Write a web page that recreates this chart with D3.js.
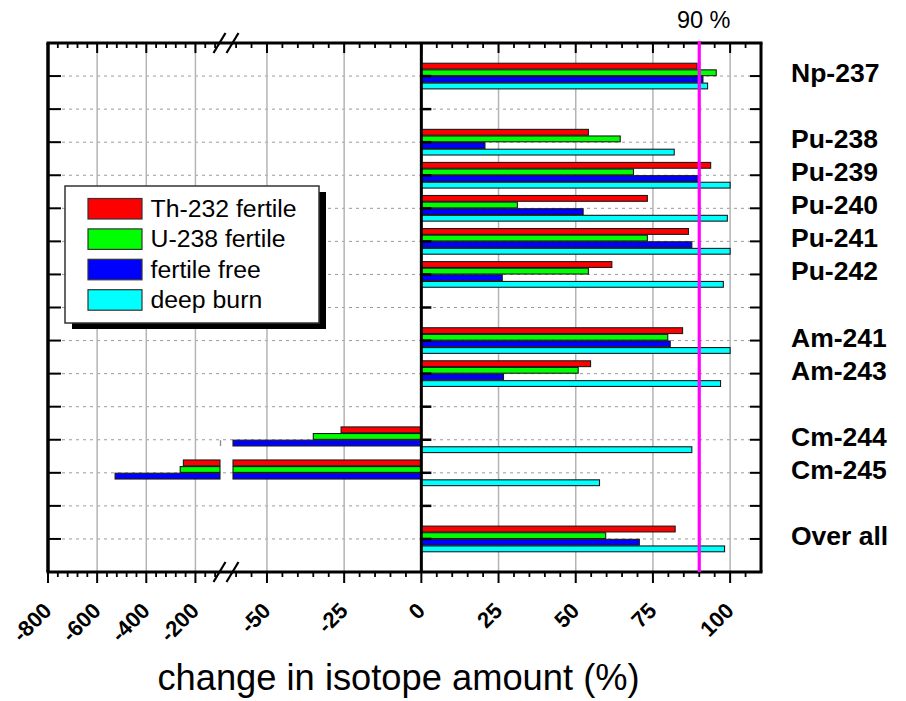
<!DOCTYPE html>
<html>
<head>
<meta charset="utf-8">
<script src="https://cdn.jsdelivr.net/npm/d3@7"></script>
<style>
  body { margin: 0; background: #fff; }
  svg { display: block; font-family: "Liberation Sans", Arial, Helvetica, sans-serif; }
</style>
</head>
<body>
<svg id="chart" width="906" height="701"></svg>
<script>
// Rows of the chart, top to bottom; empty strings are spacer rows between element groups
const categories = ["Np-237", "", "Pu-238", "Pu-239", "Pu-240", "Pu-241", "Pu-242", "",
                    "Am-241", "Am-243", "", "Cm-244", "Cm-245", "", "Over all"];
const isotopes = ["Np-237", "Pu-238", "Pu-239", "Pu-240", "Pu-241", "Pu-242",
                  "Am-241", "Am-243", "Cm-244", "Cm-245", "Over all"];

// Change in isotope amount (%) per fuel option
const th232Fertile = [89.3, 54.1, 93.7, 73.2, 86.5, 61.7, 84.6, 54.8, -26, -249, 82.2];
const u238Fertile  = [95.5, 64.4, 68.7, 31.1, 73.2, 54.1, 79.8, 50.8, -35, -262, 59.7];
const fertileFree  = [91.2, 20.6, 89.5, 52.4, 87.6, 26.2, 80.6, 26.6, -100, -527, 70.6];
const deepBurn     = [92.7, 81.9, 100, 99.1, 100, 97.8, 100, 96.9, 87.6, 57.7, 98.2];

const seriesNames  = ["Th-232 fertile", "U-238 fertile", "fertile free", "deep burn"];
const seriesValues = [th232Fertile, u238Fertile, fertileFree, deepBurn];
const seriesColors = ["#ff0000", "#00ff00", "#0000ff", "#00ffff"];

// Broken x axis: a compressed far-negative segment and a main segment
const leftDomain  = [-800, -100];
const rightDomain = [-61, 110];
const leftTicks   = [-800, -600, -400, -200];
const rightTicks  = [-50, -25, 0, 25, 50, 75, 100];
const leftMinorStep = 40;
const rightMinorStep = 5;

const limitValue = 90;
const limitLabel = "90 %";
const axisTitle = "change in isotope amount (%)";

// ---- layout ----
const frame = { left: 48, right: 761, top: 43, bottom: 572 };
const svg = d3.select("#chart");

const xL = d3.scaleLinear().domain(leftDomain).range([frame.left, 220]);
const xR = d3.scaleLinear().domain(rightDomain).range([233, frame.right]);
const y = d3.scalePoint().domain(d3.range(categories.length))
  .range([frame.top, frame.bottom]).padding(1);
const step = y.step();

const xAny = v => (v <= leftDomain[1] ? xL(v) : xR(v));

// ---- grid ----
const grid = svg.append("g");
grid.selectAll("line.h").data(d3.range(categories.length)).join("line")
  .attr("x1", frame.left).attr("x2", frame.right)
  .attr("y1", d => y(d)).attr("y2", d => y(d))
  .attr("stroke", "#9a9a9a").attr("stroke-width", 1).attr("stroke-dasharray", "3,4");

const gridValues = leftTicks.filter(v => v !== leftDomain[0])
  .concat(rightTicks.filter(v => v !== 0));
grid.selectAll("line.v").data(gridValues).join("line")
  .attr("x1", d => xAny(d)).attr("x2", d => xAny(d))
  .attr("y1", frame.top).attr("y2", frame.bottom)
  .attr("stroke", "#b4b4b4").attr("stroke-width", 1.5);

// ---- bars ----
const barH = 0.2 * step - 0.8;
const bars = svg.append("g");
const barRows = [];
seriesValues.forEach((vals, k) => {
  vals.forEach((v, i) => {
    const cy = y(categories.indexOf(isotopes[i]));
    barRows.push({ v, k, top: cy + (-0.4 + 0.2 * k) * step + 0.4 });
  });
});
barRows.forEach(b => {
  const g = bars.append("g");
  const style = sel => sel.attr("fill", seriesColors[b.k])
    .attr("stroke", "#1a1a1a").attr("stroke-width", 1.1)
    .attr("y", b.top).attr("height", barH);
  if (b.v >= 0) {
    g.append("rect").call(style)
      .attr("x", xR(0)).attr("width", xR(b.v) - xR(0));
  } else {
    const x0 = xR(Math.max(b.v, rightDomain[0]));
    g.append("rect").call(style).attr("x", x0).attr("width", xR(0) - x0);
    if (b.v < leftDomain[1]) {
      const xl = xL(Math.max(b.v, leftDomain[0]));
      g.append("rect").call(style).attr("x", xl).attr("width", xL(leftDomain[1]) - xl);
    } else if (b.v === leftDomain[1]) {
      // bar ends exactly at the break: only its end edge shows in the left segment
      g.append("line")
        .attr("x1", xL(b.v) + 0.5).attr("x2", xL(b.v) + 0.5)
        .attr("y1", b.top).attr("y2", b.top + barH)
        .attr("stroke", "#8a8a8a").attr("stroke-width", 1.3);
    }
  }
});

// ---- zero axis with row ticks ----
const axes = svg.append("g").attr("stroke", "#000");
axes.append("line").attr("x1", xR(0)).attr("x2", xR(0))
  .attr("y1", frame.top).attr("y2", frame.bottom).attr("stroke-width", 3);
const rowIdx = d3.range(categories.length);
axes.selectAll("line.z").data(rowIdx).join("line")
  .attr("x1", xR(0)).attr("x2", xR(0) + 10)
  .attr("y1", d => y(d)).attr("y2", d => y(d)).attr("stroke-width", 2.5);
axes.selectAll("line.l").data(rowIdx).join("line")
  .attr("x1", frame.left).attr("x2", frame.left + 13)
  .attr("y1", d => y(d)).attr("y2", d => y(d)).attr("stroke-width", 2);
axes.selectAll("line.r").data(rowIdx).join("line")
  .attr("x1", frame.right - 11).attr("x2", frame.right)
  .attr("y1", d => y(d)).attr("y2", d => y(d)).attr("stroke-width", 2);

// ---- top / bottom ticks ----
const leftMinor = d3.range(leftDomain[0] + leftMinorStep, leftDomain[1], leftMinorStep)
  .filter(v => !leftTicks.includes(v));
const rightMinor = d3.range(-60, rightDomain[1], rightMinorStep)
  .filter(v => !rightTicks.includes(v));
const majors = leftTicks.map(xL).concat(rightTicks.map(xR));
const minors = leftMinor.map(xL).concat(rightMinor.map(xR));

axes.selectAll("line.tM").data(majors).join("line")
  .attr("x1", d => d).attr("x2", d => d)
  .attr("y1", frame.top).attr("y2", frame.top + 10).attr("stroke-width", 2);
axes.selectAll("line.tm").data(minors).join("line")
  .attr("x1", d => d).attr("x2", d => d)
  .attr("y1", frame.top).attr("y2", frame.top + 5).attr("stroke-width", 1.8);
axes.selectAll("line.bM").data(majors).join("line")
  .attr("x1", d => d).attr("x2", d => d)
  .attr("y1", frame.bottom).attr("y2", frame.bottom + 11).attr("stroke-width", 2);
axes.selectAll("line.bm").data(minors).join("line")
  .attr("x1", d => d).attr("x2", d => d)
  .attr("y1", frame.bottom).attr("y2", frame.bottom + 5).attr("stroke-width", 1.8);

// ---- frame ----
axes.append("line").attr("x1", frame.left - 1.5).attr("x2", frame.right + 1.5)
  .attr("y1", frame.top).attr("y2", frame.top).attr("stroke-width", 3);
axes.append("line").attr("x1", frame.left - 1.5).attr("x2", frame.right + 1.5)
  .attr("y1", frame.bottom).attr("y2", frame.bottom).attr("stroke-width", 3);
axes.append("line").attr("x1", frame.left).attr("x2", frame.left)
  .attr("y1", frame.top).attr("y2", frame.bottom).attr("stroke-width", 3.5);
axes.append("line").attr("x1", frame.right).attr("x2", frame.right)
  .attr("y1", frame.top).attr("y2", frame.bottom).attr("stroke-width", 3);

// ---- axis break marks ----
const gapX = (xL(leftDomain[1]) + xR(rightDomain[0])) / 2;
[frame.top, frame.bottom].forEach(yy => {
  [-7, 6].forEach(dx => {
    axes.append("line")
      .attr("x1", gapX + dx - 6).attr("y1", yy + 10)
      .attr("x2", gapX + dx + 6).attr("y2", yy - 10)
      .attr("stroke-width", 2.2);
  });
});

// ---- limit line ----
svg.append("line")
  .attr("x1", xR(limitValue)).attr("x2", xR(limitValue))
  .attr("y1", frame.top - 2).attr("y2", frame.bottom)
  .attr("stroke", "#ff00ff").attr("stroke-width", 3.2);
svg.append("text").attr("x", xR(limitValue) + 4.5).attr("y", 28)
  .attr("text-anchor", "middle").attr("font-size", 23.5).attr("fill", "#000")
  .text(limitLabel);

// ---- tick labels ----
const tickLabels = leftTicks.map(v => ({ v, x: xL(v) }))
  .concat(rightTicks.map(v => ({ v, x: xR(v) })));
svg.append("g").selectAll("text").data(tickLabels).join("text")
  .attr("transform", d => `translate(${d.x + 5},${frame.bottom + 40}) rotate(-45)`)
  .attr("text-anchor", "end").attr("font-size", 22).attr("font-weight", "bold")
  .attr("fill", "#000")
  .text(d => String(d.v));

// ---- row labels ----
svg.append("g").selectAll("text").data(isotopes).join("text")
  .attr("x", 791).attr("y", d => y(categories.indexOf(d)) + 6)
  .attr("font-size", 26.5).attr("font-weight", "bold").attr("fill", "#000")
  .text(d => d);

// ---- axis title ----
svg.append("text").attr("x", 398.5).attr("y", 690)
  .attr("text-anchor", "middle").attr("font-size", 36.3).attr("fill", "#000")
  .text(axisTitle);

// ---- legend ----
const lg = svg.append("g").attr("transform", "translate(65,186)");
lg.append("rect").attr("x", 7).attr("y", 6).attr("width", 254).attr("height", 137).attr("fill", "#000");
lg.append("rect").attr("width", 254).attr("height", 137)
  .attr("fill", "#fff").attr("stroke", "#333").attr("stroke-width", 1.5);
const items = lg.selectAll("g.item").data(seriesNames).join("g")
  .attr("transform", (d, i) => `translate(0,${12.5 + i * 30.4})`);
items.append("rect").attr("x", 23).attr("width", 54).attr("height", 20.5)
  .attr("fill", (d, i) => seriesColors[i]).attr("stroke", "#333").attr("stroke-width", 1.2);
items.append("text").attr("x", 85.5).attr("y", 18.2)
  .attr("font-size", 24.8).attr("fill", "#000").text(d => d);
</script>
</body>
</html>
